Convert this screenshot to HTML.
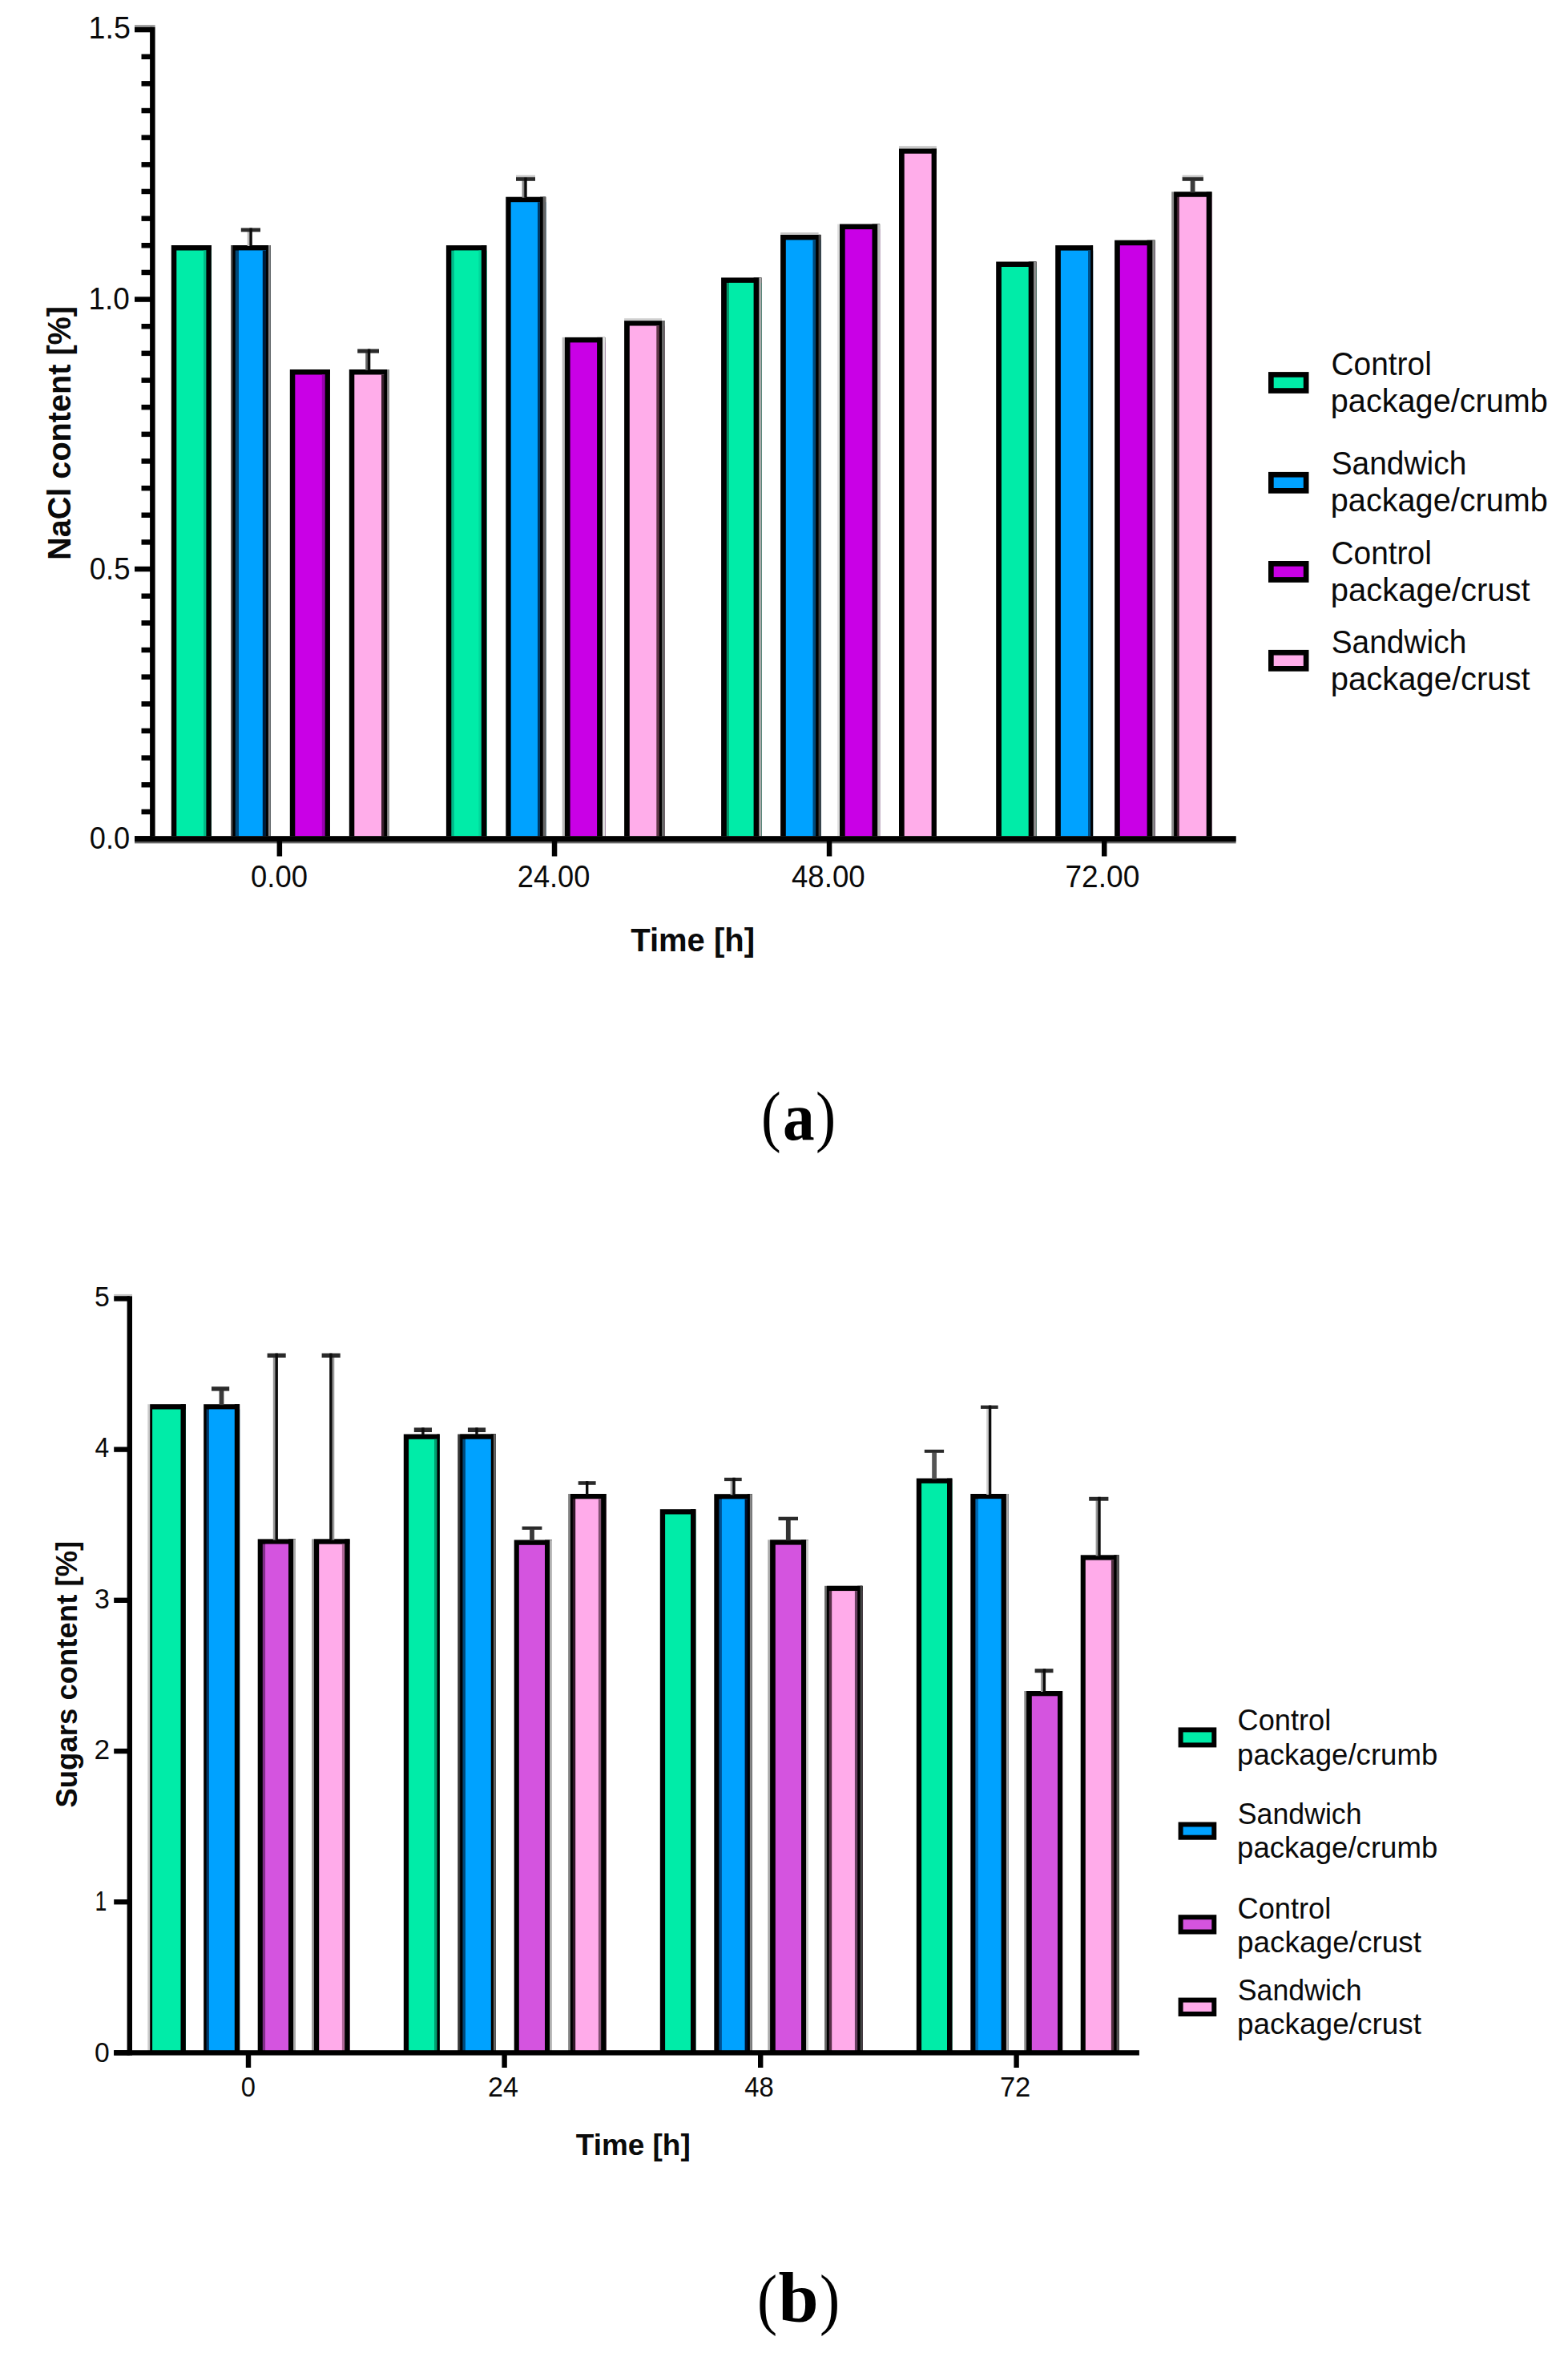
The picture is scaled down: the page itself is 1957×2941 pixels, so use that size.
<!DOCTYPE html>
<html lang="en"><head><meta charset="utf-8"><title>Figure: NaCl and sugars content</title>
<style>
html,body{margin:0;padding:0;background:#fff;}
body{width:1957px;height:2941px;overflow:hidden;}
svg{display:block;}
</style></head><body>
<svg width="1957" height="2941" viewBox="0 0 1957 2941" shape-rendering="geometricPrecision">
<rect x="0" y="0" width="1957" height="2941" fill="#fff"/>
<rect x="213.8" y="306.0" width="50.0" height="740.6" fill="#000"/>
<rect x="220.3" y="312.5" width="43.5" height="734.1" fill="#00ECA8"/>
<rect x="254.1" y="312.5" width="9.7" height="734.1" fill="#00B884"/>
<rect x="257.4" y="306.0" width="6.4" height="740.6" fill="#000"/>
<rect x="288.0" y="306.0" width="49.7" height="740.6" fill="#555"/>
<rect x="290.3" y="306.0" width="47.4" height="740.6" fill="#000"/>
<rect x="293.7" y="312.5" width="44.0" height="734.1" fill="#004878"/>
<rect x="298.0" y="312.5" width="39.7" height="734.1" fill="#00A2FF"/>
<rect x="327.8" y="312.5" width="9.9" height="734.1" fill="#001c38"/>
<rect x="332.0" y="306.0" width="5.7" height="740.6" fill="#000"/>
<rect x="334.9" y="306.0" width="2.8" height="740.6" fill="#888"/>
<rect x="361.8" y="461.0" width="50.1" height="585.6" fill="#000"/>
<rect x="368.3" y="467.5" width="43.6" height="579.1" fill="#C900E6"/>
<rect x="401.8" y="467.5" width="10.1" height="579.1" fill="#9800B0"/>
<rect x="405.7" y="461.0" width="6.2" height="585.6" fill="#000"/>
<rect x="435.8" y="461.0" width="50.2" height="585.6" fill="#000"/>
<rect x="442.3" y="467.5" width="43.7" height="579.1" fill="#FFADEA"/>
<rect x="476.0" y="467.5" width="10.0" height="579.1" fill="#38202c"/>
<rect x="479.3" y="461.0" width="6.7" height="585.6" fill="#000"/>
<rect x="483.1" y="461.0" width="2.9" height="585.6" fill="#888"/>
<rect x="556.9" y="306.1" width="50.4" height="740.5" fill="#000"/>
<rect x="563.3" y="312.6" width="44.0" height="734.0" fill="#00B888"/>
<rect x="566.8" y="312.6" width="40.5" height="734.0" fill="#00ECA8"/>
<rect x="597.4" y="312.6" width="9.9" height="734.0" fill="#00D89C"/>
<rect x="600.8" y="306.1" width="6.5" height="740.5" fill="#000"/>
<rect x="631.3" y="245.7" width="49.9" height="800.9" fill="#000"/>
<rect x="637.6" y="252.2" width="43.6" height="794.4" fill="#00A2FF"/>
<rect x="671.0" y="252.2" width="10.2" height="794.4" fill="#003864"/>
<rect x="674.0" y="245.7" width="7.2" height="800.9" fill="#000"/>
<rect x="677.7" y="245.7" width="3.5" height="800.9" fill="#666"/>
<rect x="701.7" y="420.9" width="53.5" height="625.7" fill="#bbb"/>
<rect x="704.9" y="420.9" width="50.3" height="625.7" fill="#000"/>
<rect x="711.6" y="427.4" width="43.6" height="619.2" fill="#C900E6"/>
<rect x="745.1" y="420.9" width="10.1" height="625.7" fill="#000"/>
<rect x="752.0" y="420.9" width="3.2" height="625.7" fill="#ddd"/>
<rect x="779.1" y="400.0" width="50.2" height="646.6" fill="#000"/>
<rect x="785.8" y="406.5" width="43.5" height="640.1" fill="#FFADEA"/>
<rect x="819.3" y="406.5" width="10.0" height="640.1" fill="#603848"/>
<rect x="822.8" y="400.0" width="6.5" height="646.6" fill="#000"/>
<rect x="826.0" y="400.0" width="3.3" height="646.6" fill="#666"/>
<rect x="900.1" y="346.4" width="50.3" height="700.2" fill="#000"/>
<rect x="906.8" y="352.9" width="43.6" height="693.7" fill="#009868"/>
<rect x="910.0" y="352.9" width="40.4" height="693.7" fill="#00ECA8"/>
<rect x="940.6" y="346.4" width="9.8" height="700.2" fill="#000"/>
<rect x="947.3" y="346.4" width="3.1" height="700.2" fill="#aaa"/>
<rect x="974.1" y="292.9" width="50.3" height="753.7" fill="#000"/>
<rect x="980.8" y="299.4" width="43.6" height="747.2" fill="#00A2FF"/>
<rect x="1014.5" y="299.4" width="9.9" height="747.2" fill="#004878"/>
<rect x="1018.1" y="292.9" width="6.3" height="753.7" fill="#000"/>
<rect x="1021.6" y="292.9" width="2.8" height="753.7" fill="#444"/>
<rect x="1045.2" y="279.6" width="52.9" height="767.0" fill="#ddd"/>
<rect x="1048.0" y="279.6" width="50.1" height="767.0" fill="#000"/>
<rect x="1054.7" y="286.1" width="43.4" height="760.5" fill="#C900E6"/>
<rect x="1088.5" y="279.6" width="9.6" height="767.0" fill="#000"/>
<rect x="1095.2" y="279.6" width="2.9" height="767.0" fill="#bbb"/>
<rect x="1122.0" y="185.2" width="46.9" height="861.4" fill="#000"/>
<rect x="1128.7" y="191.7" width="40.2" height="854.9" fill="#FFADEA"/>
<rect x="1162.6" y="185.2" width="6.3" height="861.4" fill="#000"/>
<rect x="1243.2" y="326.5" width="50.3" height="720.1" fill="#000"/>
<rect x="1249.9" y="333.0" width="43.6" height="713.6" fill="#00ECA8"/>
<rect x="1283.7" y="326.5" width="9.8" height="720.1" fill="#000"/>
<rect x="1290.0" y="326.5" width="3.5" height="720.1" fill="#888"/>
<rect x="1317.2" y="306.1" width="46.9" height="740.5" fill="#000"/>
<rect x="1323.9" y="312.6" width="40.2" height="734.0" fill="#00A2FF"/>
<rect x="1358.0" y="312.6" width="6.1" height="734.0" fill="#005088"/>
<rect x="1361.2" y="306.1" width="2.9" height="740.5" fill="#000"/>
<rect x="1391.1" y="299.7" width="50.5" height="746.9" fill="#000"/>
<rect x="1397.8" y="306.2" width="43.8" height="740.4" fill="#C900E6"/>
<rect x="1431.6" y="299.7" width="10.0" height="746.9" fill="#000"/>
<rect x="1438.3" y="299.7" width="3.3" height="746.9" fill="#888"/>
<rect x="1462.2" y="239.3" width="50.2" height="807.3" fill="#888"/>
<rect x="1465.1" y="239.3" width="47.3" height="807.3" fill="#000"/>
<rect x="1468.9" y="245.8" width="43.5" height="800.8" fill="#402030"/>
<rect x="1471.8" y="245.8" width="40.6" height="800.8" fill="#FFADEA"/>
<rect x="1505.7" y="239.3" width="6.7" height="807.3" fill="#000"/>
<rect x="1122.0" y="182.2" width="46.9" height="3.2" fill="#c8c8c8"/>
<rect x="974.1" y="290.0" width="47.5" height="3.0" fill="#c8c8c8"/>
<rect x="779.1" y="397.2" width="46.9" height="3.0" fill="#d0d0d0"/>
<rect x="308.7" y="288.8" width="4.4" height="18.2" fill="#bbb"/>
<rect x="300.8" y="284.5" width="24.2" height="4.8" fill="#2a2a2a"/>
<rect x="311.4" y="284.5" width="3.4" height="22.5" fill="#0c0c0c"/>
<rect x="456.2" y="440.1" width="4.4" height="21.9" fill="#666"/>
<rect x="446.2" y="435.5" width="26.8" height="5.1" fill="#2a2a2a"/>
<rect x="458.9" y="435.5" width="3.4" height="26.5" fill="#0c0c0c"/>
<rect x="651.6" y="225.3" width="4.4" height="21.4" fill="#888"/>
<rect x="644.0" y="221.0" width="24.0" height="4.8" fill="#2a2a2a"/>
<rect x="654.3" y="221.0" width="3.4" height="25.7" fill="#0c0c0c"/>
<rect x="1485.7" y="225.3" width="5.8" height="15.0" fill="#3c3c3c"/>
<rect x="1475.6" y="221.0" width="26.3" height="4.8" fill="#2a2a2a"/>
<rect x="644.0" y="218.6" width="24.0" height="2.6" fill="#c4c4c4"/>
<rect x="1475.6" y="218.6" width="26.3" height="2.6" fill="#c4c4c4"/>
<rect x="168.0" y="31.0" width="25.6" height="2.9" fill="#a0a0a0"/>
<rect x="187.1" y="33.8" width="6.5" height="1016.0" fill="#000"/>
<rect x="168.0" y="1043.3" width="1374.6" height="9.1" fill="#666"/>
<rect x="168.0" y="1043.3" width="1374.6" height="6.8" fill="#000"/>
<rect x="168.0" y="1043.3" width="22.3" height="6.5" fill="#000"/>
<rect x="176.5" y="1009.7" width="13.8" height="6.5" fill="#000"/>
<rect x="176.5" y="976.0" width="13.8" height="6.5" fill="#000"/>
<rect x="176.5" y="942.4" width="13.8" height="6.5" fill="#000"/>
<rect x="176.5" y="908.7" width="13.8" height="6.5" fill="#000"/>
<rect x="176.5" y="875.1" width="13.8" height="6.5" fill="#000"/>
<rect x="176.5" y="841.4" width="13.8" height="6.5" fill="#000"/>
<rect x="176.5" y="807.8" width="13.8" height="6.5" fill="#000"/>
<rect x="176.5" y="774.1" width="13.8" height="6.5" fill="#000"/>
<rect x="176.5" y="740.5" width="13.8" height="6.5" fill="#000"/>
<rect x="168.0" y="706.8" width="22.3" height="6.5" fill="#000"/>
<rect x="176.5" y="673.2" width="13.8" height="6.5" fill="#000"/>
<rect x="176.5" y="639.5" width="13.8" height="6.5" fill="#000"/>
<rect x="176.5" y="605.9" width="13.8" height="6.5" fill="#000"/>
<rect x="176.5" y="572.2" width="13.8" height="6.5" fill="#000"/>
<rect x="176.5" y="538.6" width="13.8" height="6.5" fill="#000"/>
<rect x="176.5" y="504.9" width="13.8" height="6.5" fill="#000"/>
<rect x="176.5" y="471.3" width="13.8" height="6.5" fill="#000"/>
<rect x="176.5" y="437.6" width="13.8" height="6.5" fill="#000"/>
<rect x="176.5" y="404.0" width="13.8" height="6.5" fill="#000"/>
<rect x="168.0" y="370.3" width="22.3" height="6.5" fill="#000"/>
<rect x="176.5" y="336.7" width="13.8" height="6.5" fill="#000"/>
<rect x="176.5" y="303.0" width="13.8" height="6.5" fill="#000"/>
<rect x="176.5" y="269.4" width="13.8" height="6.5" fill="#000"/>
<rect x="176.5" y="235.7" width="13.8" height="6.5" fill="#000"/>
<rect x="176.5" y="202.1" width="13.8" height="6.5" fill="#000"/>
<rect x="176.5" y="168.4" width="13.8" height="6.5" fill="#000"/>
<rect x="176.5" y="134.8" width="13.8" height="6.5" fill="#000"/>
<rect x="176.5" y="101.1" width="13.8" height="6.5" fill="#000"/>
<rect x="176.5" y="67.5" width="13.8" height="6.5" fill="#000"/>
<rect x="168.0" y="33.8" width="22.3" height="6.5" fill="#000"/>
<rect x="345.6" y="1046.6" width="6.5" height="21.9" fill="#000"/>
<rect x="688.8" y="1046.6" width="6.5" height="21.9" fill="#000"/>
<rect x="1031.8" y="1046.6" width="6.5" height="21.9" fill="#000"/>
<rect x="1375.0" y="1046.6" width="6.5" height="21.9" fill="#000"/>
<text transform="translate(313.04,1106.80) scale(0.9336,1)" font-family='"Liberation Sans", sans-serif' font-size="39" font-weight="normal" fill="#0a0a0a">0.00</text>
<text transform="translate(645.79,1106.80) scale(0.9280,1)" font-family='"Liberation Sans", sans-serif' font-size="39" font-weight="normal" fill="#0a0a0a">24.00</text>
<text transform="translate(987.98,1106.80) scale(0.9396,1)" font-family='"Liberation Sans", sans-serif' font-size="39" font-weight="normal" fill="#0a0a0a">48.00</text>
<text transform="translate(1329.45,1106.80) scale(0.9512,1)" font-family='"Liberation Sans", sans-serif' font-size="39" font-weight="normal" fill="#0a0a0a">72.00</text>
<text transform="translate(111.85,1059.30) scale(0.9280,1)" font-family='"Liberation Sans", sans-serif' font-size="39" font-weight="normal" fill="#0a0a0a">0.0</text>
<text transform="translate(111.74,722.70) scale(0.9356,1)" font-family='"Liberation Sans", sans-serif' font-size="39" font-weight="normal" fill="#0a0a0a">0.5</text>
<text transform="translate(110.53,385.60) scale(0.9474,1)" font-family='"Liberation Sans", sans-serif' font-size="39" font-weight="normal" fill="#0a0a0a">1.0</text>
<text transform="translate(110.58,47.80) scale(0.9633,1)" font-family='"Liberation Sans", sans-serif' font-size="39" font-weight="normal" fill="#0a0a0a">1.5</text>
<text transform="translate(88.30,698.88) rotate(-90) scale(0.9786,1)" font-family='"Liberation Sans", sans-serif' font-size="40.5" font-weight="bold" fill="#0a0a0a">NaCl content [%]</text>
<text transform="translate(787.30,1186.50) scale(0.9919,1)" font-family='"Liberation Sans", sans-serif' font-size="40.3" font-weight="bold" fill="#0a0a0a">Time [h]</text>
<rect x="1583.0" y="464.1" width="50.5" height="26.8" fill="#000"/>
<rect x="1589.7" y="470.8" width="37.1" height="13.4" fill="#00ECA8"/>
<text font-family='"Liberation Sans", sans-serif' font-size="40.3" fill="#0a0a0a" xml:space="preserve"><tspan x="1661.45" y="468.00" textLength="136.24" lengthAdjust="spacingAndGlyphs">Control </tspan><tspan x="1660.82" y="514.00" textLength="271.04" lengthAdjust="spacingAndGlyphs">package/crumb</tspan></text>
<rect x="1583.0" y="588.9" width="50.5" height="26.8" fill="#000"/>
<rect x="1589.7" y="595.6" width="37.1" height="13.4" fill="#00A2FF"/>
<text font-family='"Liberation Sans", sans-serif' font-size="40.3" fill="#0a0a0a" xml:space="preserve"><tspan x="1661.65" y="591.50" textLength="179.43" lengthAdjust="spacingAndGlyphs">Sandwich </tspan><tspan x="1660.82" y="637.50" textLength="271.04" lengthAdjust="spacingAndGlyphs">package/crumb</tspan></text>
<rect x="1583.0" y="700.0" width="50.5" height="26.8" fill="#000"/>
<rect x="1589.7" y="706.7" width="37.1" height="13.4" fill="#C900E6"/>
<text font-family='"Liberation Sans", sans-serif' font-size="40.3" fill="#0a0a0a" xml:space="preserve"><tspan x="1661.45" y="703.50" textLength="136.24" lengthAdjust="spacingAndGlyphs">Control </tspan><tspan x="1660.80" y="749.70" textLength="248.83" lengthAdjust="spacingAndGlyphs">package/crust</tspan></text>
<rect x="1583.0" y="810.9" width="50.5" height="26.8" fill="#000"/>
<rect x="1589.7" y="817.6" width="37.1" height="13.4" fill="#FFADEA"/>
<text font-family='"Liberation Sans", sans-serif' font-size="40.3" fill="#0a0a0a" xml:space="preserve"><tspan x="1661.65" y="814.70" textLength="179.43" lengthAdjust="spacingAndGlyphs">Sandwich </tspan><tspan x="1660.80" y="860.70" textLength="248.83" lengthAdjust="spacingAndGlyphs">package/crust</tspan></text>
<text font-family='"Liberation Serif", serif' fill="#000"><tspan x="950.06" y="1421.40" font-size="85.3" font-weight="normal" textLength="24.68" lengthAdjust="spacingAndGlyphs">(</tspan><tspan x="977.02" y="1421.70" font-size="84" font-weight="bold" textLength="39.67" lengthAdjust="spacingAndGlyphs">a</tspan><tspan x="1017.94" y="1421.40" font-size="85.3" font-weight="normal" textLength="25.22" lengthAdjust="spacingAndGlyphs">)</tspan></text>
<rect x="184.3" y="1752.2" width="47.5" height="809.2" fill="#ccc"/>
<rect x="187.2" y="1752.2" width="44.6" height="809.2" fill="#000"/>
<rect x="190.1" y="1758.5" width="41.7" height="802.9" fill="#00ECA8"/>
<rect x="225.5" y="1752.2" width="6.3" height="809.2" fill="#000"/>
<rect x="254.2" y="1752.2" width="44.9" height="809.2" fill="#000"/>
<rect x="257.6" y="1758.5" width="41.5" height="802.9" fill="#003868"/>
<rect x="260.9" y="1758.5" width="38.2" height="802.9" fill="#00A2FF"/>
<rect x="292.8" y="1752.2" width="6.3" height="809.2" fill="#000"/>
<rect x="321.7" y="1920.4" width="47.3" height="641.0" fill="#000"/>
<rect x="327.8" y="1926.7" width="41.2" height="634.7" fill="#803088"/>
<rect x="331.1" y="1926.7" width="37.9" height="634.7" fill="#D454DF"/>
<rect x="360.0" y="1920.4" width="9.0" height="641.0" fill="#000"/>
<rect x="366.1" y="1920.4" width="2.9" height="641.0" fill="#aaa"/>
<rect x="389.1" y="1920.4" width="47.4" height="641.0" fill="#999"/>
<rect x="391.9" y="1920.4" width="44.6" height="641.0" fill="#000"/>
<rect x="398.2" y="1926.7" width="38.3" height="634.7" fill="#FFABEA"/>
<rect x="426.9" y="1926.7" width="9.6" height="634.7" fill="#b06898"/>
<rect x="430.2" y="1920.4" width="6.3" height="641.0" fill="#000"/>
<rect x="503.8" y="1789.5" width="44.9" height="771.9" fill="#000"/>
<rect x="510.1" y="1795.8" width="38.6" height="765.6" fill="#00ECA8"/>
<rect x="542.0" y="1795.8" width="6.7" height="765.6" fill="#00a070"/>
<rect x="545.5" y="1789.5" width="3.2" height="771.9" fill="#000"/>
<rect x="571.3" y="1789.5" width="47.5" height="771.9" fill="#333"/>
<rect x="574.2" y="1789.5" width="44.6" height="771.9" fill="#000"/>
<rect x="577.4" y="1795.8" width="41.4" height="765.6" fill="#004878"/>
<rect x="580.9" y="1795.8" width="37.9" height="765.6" fill="#00A2FF"/>
<rect x="612.8" y="1789.5" width="6.0" height="771.9" fill="#000"/>
<rect x="615.9" y="1789.5" width="2.9" height="771.9" fill="#666"/>
<rect x="641.7" y="1921.5" width="47.3" height="639.9" fill="#000"/>
<rect x="647.8" y="1927.8" width="41.2" height="633.6" fill="#D454DF"/>
<rect x="680.0" y="1921.5" width="9.0" height="639.9" fill="#000"/>
<rect x="686.1" y="1921.5" width="2.9" height="639.9" fill="#bbb"/>
<rect x="709.1" y="1864.0" width="47.4" height="697.4" fill="#888"/>
<rect x="711.9" y="1864.0" width="44.6" height="697.4" fill="#000"/>
<rect x="714.8" y="1870.3" width="41.7" height="691.1" fill="#301828"/>
<rect x="718.2" y="1870.3" width="38.3" height="691.1" fill="#FFABEA"/>
<rect x="746.9" y="1870.3" width="9.6" height="691.1" fill="#805070"/>
<rect x="750.2" y="1864.0" width="6.3" height="697.4" fill="#000"/>
<rect x="823.8" y="1883.2" width="44.6" height="678.2" fill="#000"/>
<rect x="830.1" y="1889.5" width="38.3" height="671.9" fill="#00ECA8"/>
<rect x="862.0" y="1883.2" width="6.4" height="678.2" fill="#000"/>
<rect x="891.3" y="1864.2" width="47.5" height="697.2" fill="#000"/>
<rect x="897.4" y="1870.5" width="41.4" height="690.9" fill="#005090"/>
<rect x="900.9" y="1870.5" width="37.9" height="690.9" fill="#00A2FF"/>
<rect x="929.6" y="1870.5" width="9.2" height="690.9" fill="#001028"/>
<rect x="932.8" y="1864.2" width="6.0" height="697.2" fill="#000"/>
<rect x="935.9" y="1864.2" width="2.9" height="697.2" fill="#888"/>
<rect x="958.3" y="1921.3" width="50.7" height="640.1" fill="#aaa"/>
<rect x="961.1" y="1921.3" width="47.9" height="640.1" fill="#000"/>
<rect x="967.8" y="1927.6" width="41.2" height="633.8" fill="#D454DF"/>
<rect x="1000.0" y="1921.3" width="9.0" height="640.1" fill="#000"/>
<rect x="1006.1" y="1921.3" width="2.9" height="640.1" fill="#ccc"/>
<rect x="1029.1" y="1978.8" width="47.4" height="582.6" fill="#666"/>
<rect x="1031.9" y="1978.8" width="44.6" height="582.6" fill="#000"/>
<rect x="1034.8" y="1985.1" width="41.7" height="576.3" fill="#583048"/>
<rect x="1038.2" y="1985.1" width="38.3" height="576.3" fill="#FFABEA"/>
<rect x="1066.9" y="1985.1" width="9.6" height="576.3" fill="#684060"/>
<rect x="1070.2" y="1978.8" width="6.3" height="582.6" fill="#000"/>
<rect x="1073.6" y="1978.8" width="2.9" height="582.6" fill="#444"/>
<rect x="1143.8" y="1844.6" width="44.6" height="716.8" fill="#000"/>
<rect x="1150.1" y="1850.9" width="38.3" height="710.5" fill="#00ECA8"/>
<rect x="1182.0" y="1844.6" width="6.4" height="716.8" fill="#000"/>
<rect x="1211.3" y="1864.0" width="47.5" height="697.4" fill="#000"/>
<rect x="1217.4" y="1870.3" width="41.4" height="691.1" fill="#0068b0"/>
<rect x="1220.9" y="1870.3" width="37.9" height="691.1" fill="#00A2FF"/>
<rect x="1249.6" y="1864.0" width="9.2" height="697.4" fill="#000"/>
<rect x="1255.9" y="1864.0" width="2.9" height="697.4" fill="#aaa"/>
<rect x="1278.3" y="2110.0" width="47.8" height="451.4" fill="#888"/>
<rect x="1281.1" y="2110.0" width="45.0" height="451.4" fill="#000"/>
<rect x="1287.8" y="2116.3" width="38.3" height="445.1" fill="#D454DF"/>
<rect x="1320.0" y="2110.0" width="6.1" height="451.4" fill="#000"/>
<rect x="1348.7" y="1940.3" width="47.8" height="621.1" fill="#000"/>
<rect x="1354.8" y="1946.6" width="41.7" height="614.8" fill="#FFABEA"/>
<rect x="1386.9" y="1946.6" width="9.6" height="614.8" fill="#503040"/>
<rect x="1390.2" y="1940.3" width="6.3" height="621.1" fill="#000"/>
<rect x="1393.6" y="1940.3" width="2.9" height="621.1" fill="#555"/>
<rect x="273.6" y="1735.1" width="5.8" height="18.1" fill="#3a3a3a"/>
<rect x="264.0" y="1730.2" width="22.2" height="5.4" fill="#2a2a2a"/>
<rect x="340.8" y="1693.5" width="4.4" height="227.9" fill="#999"/>
<rect x="333.6" y="1688.6" width="23.1" height="5.4" fill="#2a2a2a"/>
<rect x="343.5" y="1688.6" width="3.4" height="232.8" fill="#0c0c0c"/>
<rect x="412.9" y="1693.5" width="4.4" height="227.9" fill="#999"/>
<rect x="401.6" y="1688.6" width="23.1" height="5.4" fill="#2a2a2a"/>
<rect x="411.2" y="1688.6" width="3.4" height="232.8" fill="#0c0c0c"/>
<rect x="516.8" y="1781.4" width="22.2" height="5.6" fill="#2a2a2a"/>
<rect x="526.2" y="1781.4" width="3.4" height="9.1" fill="#0c0c0c"/>
<rect x="583.9" y="1781.4" width="22.2" height="5.6" fill="#2a2a2a"/>
<rect x="593.3" y="1781.4" width="3.4" height="9.1" fill="#0c0c0c"/>
<rect x="661.1" y="1908.3" width="5.8" height="14.2" fill="#3a3a3a"/>
<rect x="651.6" y="1904.6" width="24.8" height="4.2" fill="#2a2a2a"/>
<rect x="721.7" y="1848.2" width="21.9" height="4.6" fill="#2a2a2a"/>
<rect x="731.0" y="1848.2" width="3.4" height="16.8" fill="#0c0c0c"/>
<rect x="911.6" y="1847.6" width="4.4" height="17.6" fill="#aaa"/>
<rect x="904.0" y="1843.8" width="21.7" height="4.3" fill="#2a2a2a"/>
<rect x="914.3" y="1843.8" width="3.4" height="21.4" fill="#0c0c0c"/>
<rect x="980.9" y="1896.6" width="5.8" height="25.7" fill="#333"/>
<rect x="971.5" y="1892.7" width="24.5" height="4.4" fill="#2a2a2a"/>
<rect x="1163.2" y="1812.3" width="5.8" height="33.3" fill="#555"/>
<rect x="1153.8" y="1808.8" width="24.3" height="4.0" fill="#2a2a2a"/>
<rect x="1231.2" y="1757.4" width="4.4" height="107.6" fill="#ccc"/>
<rect x="1224.0" y="1753.6" width="21.7" height="4.3" fill="#2a2a2a"/>
<rect x="1233.9" y="1753.6" width="3.4" height="111.4" fill="#0c0c0c"/>
<rect x="1299.0" y="2086.7" width="4.4" height="24.3" fill="#999"/>
<rect x="1291.6" y="2082.2" width="22.9" height="5.0" fill="#2a2a2a"/>
<rect x="1301.7" y="2082.2" width="3.4" height="28.8" fill="#0c0c0c"/>
<rect x="1367.6" y="1872.2" width="4.4" height="69.1" fill="#999"/>
<rect x="1359.2" y="1867.8" width="24.2" height="4.9" fill="#2a2a2a"/>
<rect x="1370.3" y="1867.8" width="3.4" height="73.5" fill="#0c0c0c"/>
<rect x="142.2" y="1614.9" width="22.8" height="2.5" fill="#c0c0c0"/>
<rect x="158.6" y="1617.3" width="6.4" height="947.3" fill="#000"/>
<rect x="142.2" y="2558.2" width="1279.7" height="6.4" fill="#000"/>
<rect x="142.2" y="2558.2" width="19.6" height="6.4" fill="#000"/>
<rect x="142.2" y="2370.0" width="19.6" height="6.4" fill="#000"/>
<rect x="142.2" y="2181.8" width="19.6" height="6.4" fill="#000"/>
<rect x="142.2" y="1993.6" width="19.6" height="6.4" fill="#000"/>
<rect x="142.2" y="1805.4" width="19.6" height="6.4" fill="#000"/>
<rect x="142.2" y="1617.2" width="19.6" height="6.4" fill="#000"/>
<rect x="306.8" y="2561.4" width="6.4" height="18.6" fill="#000"/>
<text transform="translate(300.69,2615.80) scale(0.9203,1)" font-family='"Liberation Sans", sans-serif' font-size="35.5" font-weight="normal" fill="#0a0a0a">0</text>
<rect x="626.4" y="2561.4" width="6.4" height="18.6" fill="#000"/>
<text transform="translate(609.00,2615.80) scale(0.9603,1)" font-family='"Liberation Sans", sans-serif' font-size="35.5" font-weight="normal" fill="#0a0a0a">24</text>
<rect x="946.0" y="2561.4" width="6.4" height="18.6" fill="#000"/>
<text transform="translate(929.36,2615.80) scale(0.9219,1)" font-family='"Liberation Sans", sans-serif' font-size="35.5" font-weight="normal" fill="#0a0a0a">48</text>
<rect x="1265.4" y="2561.4" width="6.4" height="18.6" fill="#000"/>
<text transform="translate(1247.89,2615.80) scale(0.9730,1)" font-family='"Liberation Sans", sans-serif' font-size="35.5" font-weight="normal" fill="#0a0a0a">72</text>
<text transform="translate(117.95,2572.80) scale(0.9498,1)" font-family='"Liberation Sans", sans-serif' font-size="35.5" font-weight="normal" fill="#0a0a0a">0</text>
<text transform="translate(118.51,2384.40) scale(0.7490,1)" font-family='"Liberation Sans", sans-serif' font-size="35.5" font-weight="normal" fill="#0a0a0a">1</text>
<text transform="translate(117.53,2195.00) scale(0.9967,1)" font-family='"Liberation Sans", sans-serif' font-size="35.5" font-weight="normal" fill="#0a0a0a">2</text>
<text transform="translate(118.03,2006.50) scale(0.9548,1)" font-family='"Liberation Sans", sans-serif' font-size="35.5" font-weight="normal" fill="#0a0a0a">3</text>
<text transform="translate(118.58,1817.80) scale(0.8981,1)" font-family='"Liberation Sans", sans-serif' font-size="35.5" font-weight="normal" fill="#0a0a0a">4</text>
<text transform="translate(117.94,1630.30) scale(0.9548,1)" font-family='"Liberation Sans", sans-serif' font-size="35.5" font-weight="normal" fill="#0a0a0a">5</text>
<text transform="translate(95.70,2255.60) rotate(-90) scale(0.9933,1)" font-family='"Liberation Sans", sans-serif' font-size="36.8" font-weight="bold" fill="#0a0a0a">Sugars content [%]</text>
<text transform="translate(718.73,2689.30) scale(1.0096,1)" font-family='"Liberation Sans", sans-serif' font-size="36.6" font-weight="bold" fill="#0a0a0a">Time [h]</text>
<rect x="1470.6" y="2155.4" width="47.7" height="25.0" fill="#000"/>
<rect x="1476.6" y="2161.4" width="35.7" height="13.0" fill="#00ECA8"/>
<text font-family='"Liberation Sans", sans-serif' font-size="37.3" fill="#0a0a0a" xml:space="preserve"><tspan x="1544.59" y="2159.20" textLength="126.77" lengthAdjust="spacingAndGlyphs">Control </tspan><tspan x="1544.02" y="2202.00" textLength="250.32" lengthAdjust="spacingAndGlyphs">package/crumb</tspan></text>
<rect x="1470.6" y="2273.5" width="47.7" height="22.2" fill="#000"/>
<rect x="1476.6" y="2279.5" width="35.7" height="10.2" fill="#00A2FF"/>
<text font-family='"Liberation Sans", sans-serif' font-size="37.3" fill="#0a0a0a" xml:space="preserve"><tspan x="1544.79" y="2276.00" textLength="164.69" lengthAdjust="spacingAndGlyphs">Sandwich </tspan><tspan x="1544.02" y="2317.60" textLength="250.32" lengthAdjust="spacingAndGlyphs">package/crumb</tspan></text>
<rect x="1470.6" y="2389.2" width="47.7" height="24.3" fill="#000"/>
<rect x="1476.6" y="2395.2" width="35.7" height="12.3" fill="#D454DF"/>
<text font-family='"Liberation Sans", sans-serif' font-size="37.3" fill="#0a0a0a" xml:space="preserve"><tspan x="1544.59" y="2393.60" textLength="126.77" lengthAdjust="spacingAndGlyphs">Control </tspan><tspan x="1544.00" y="2435.70" textLength="230.01" lengthAdjust="spacingAndGlyphs">package/crust</tspan></text>
<rect x="1470.6" y="2492.6" width="47.7" height="23.4" fill="#000"/>
<rect x="1476.6" y="2498.6" width="35.7" height="11.4" fill="#FFABEA"/>
<text font-family='"Liberation Sans", sans-serif' font-size="37.3" fill="#0a0a0a" xml:space="preserve"><tspan x="1544.79" y="2496.10" textLength="164.69" lengthAdjust="spacingAndGlyphs">Sandwich </tspan><tspan x="1544.00" y="2538.20" textLength="230.01" lengthAdjust="spacingAndGlyphs">package/crust</tspan></text>
<text font-family='"Liberation Serif", serif' fill="#000"><tspan x="945.11" y="2896.50" font-size="85.3" font-weight="normal" textLength="25.07" lengthAdjust="spacingAndGlyphs">(</tspan><tspan x="971.47" y="2897.20" font-size="88" font-weight="bold" textLength="50.14" lengthAdjust="spacingAndGlyphs">b</tspan><tspan x="1023.04" y="2896.50" font-size="85.3" font-weight="normal" textLength="25.22" lengthAdjust="spacingAndGlyphs">)</tspan></text>
</svg>
</body></html>
